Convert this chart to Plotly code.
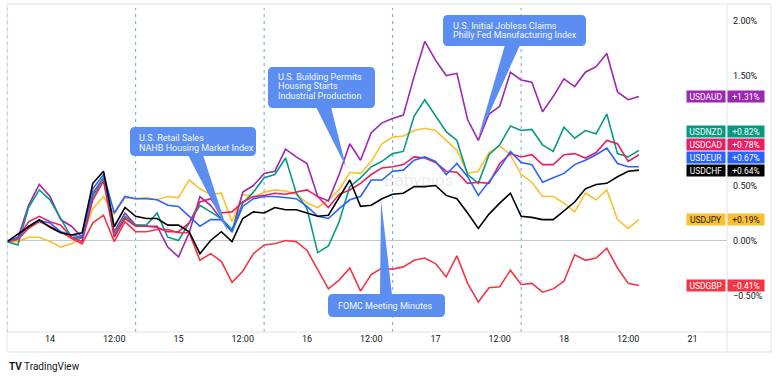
import plotly.graph_objects as go

# ---------------- data ----------------
hours = [-8, -6, -4, -2, 0, 2, 4, 6, 8, 10, 12, 14, 16, 18, 20, 22,
         24, 26, 28, 30, 32, 34, 36, 38, 40, 42, 44, 46, 48, 50, 52,
         54, 56, 58, 60, 62, 64, 66, 68, 70, 72, 74, 76, 78, 80, 82,
         84, 86, 88, 90, 92, 94, 96, 98, 100, 102, 104, 106, 108, 110]

usdaud = [-0.01, 0.02, 0.32, 0.51, 0.40, 0.19, 0.13, 0.03, 0.43, 0.57, 0.08, 0.25, 0.14, 0.13, 0.13, -0.06,
          -0.15, 0.07, 0.40, 0.32, 0.19, 0.08, 0.44, 0.50, 0.61, 0.63, 0.83, 0.76, 0.70, 0.40, 0.36,
          0.60, 0.88, 0.73, 0.98, 1.07, 1.11, 1.14, 1.49, 1.81, 1.64, 1.50, 1.52, 1.10, 0.91, 1.15,
          1.22, 1.53, 1.46, 1.44, 1.17, 1.31, 1.47, 1.40, 1.53, 1.58, 1.70, 1.35, 1.28, 1.31]
usdnzd = [-0.01, -0.04, 0.30, 0.46, 0.37, 0.20, 0.03, 0.02, 0.40, 0.57, 0.05, 0.22, 0.14, 0.14, 0.25, 0.03,
          0.00, 0.16, 0.32, 0.26, 0.20, 0.10, 0.34, 0.44, 0.57, 0.60, 0.75, 0.43, 0.29, -0.11, -0.05,
          0.17, 0.49, 0.57, 0.67, 0.72, 0.79, 0.81, 1.13, 1.28, 1.13, 0.99, 0.91, 0.60, 0.52, 0.78,
          0.87, 1.04, 1.00, 1.01, 0.87, 0.81, 1.03, 0.93, 1.00, 0.97, 1.15, 0.79, 0.76, 0.82]
usdcad = [-0.01, 0.02, 0.17, 0.22, 0.17, 0.14, 0.03, -0.01, 0.37, 0.54, 0.03, 0.20, 0.13, 0.13, 0.12, 0.08,
          0.08, 0.16, 0.35, 0.38, 0.25, 0.26, 0.35, 0.40, 0.41, 0.43, 0.42, 0.44, 0.46, 0.40, 0.30,
          0.42, 0.46, 0.52, 0.60, 0.66, 0.67, 0.69, 0.76, 0.75, 0.71, 0.63, 0.62, 0.52, 0.53, 0.52,
          0.70, 0.79, 0.76, 0.78, 0.69, 0.69, 0.78, 0.79, 0.75, 0.80, 0.91, 0.88, 0.72, 0.78]
usdeur = [-0.01, 0.03, 0.13, 0.18, 0.16, 0.08, 0.05, 0.03, 0.47, 0.60, 0.25, 0.40, 0.38, 0.38, 0.37, 0.32,
          0.31, 0.22, 0.13, 0.19, 0.19, 0.08, 0.31, 0.38, 0.40, 0.40, 0.39, 0.38, 0.31, 0.22, 0.20,
          0.29, 0.37, 0.40, 0.55, 0.55, 0.63, 0.64, 0.73, 0.76, 0.72, 0.60, 0.70, 0.58, 0.41, 0.53,
          0.66, 0.81, 0.71, 0.69, 0.53, 0.57, 0.61, 0.69, 0.73, 0.78, 0.84, 0.70, 0.67, 0.67]
usdchf = [-0.01, 0.06, 0.125, 0.19, 0.12, 0.07, 0.05, 0.07, 0.52, 0.63, 0.125, 0.30, 0.22, 0.20, 0.20, 0.14,
          0.14, 0.08, -0.12, 0.00, 0.08, -0.01, 0.20, 0.26, 0.25, 0.30, 0.28, 0.28, 0.25, 0.22, 0.23,
          0.39, 0.55, 0.31, 0.32, 0.38, 0.42, 0.43, 0.49, 0.49, 0.50, 0.41, 0.38, 0.25, 0.11, 0.24,
          0.34, 0.43, 0.22, 0.21, 0.19, 0.19, 0.27, 0.35, 0.47, 0.51, 0.52, 0.58, 0.63, 0.64]
usdjpy = [-0.01, -0.01, 0.03, 0.03, -0.01, -0.06, -0.03, 0.03, 0.29, 0.40, 0.24, 0.39, 0.38, 0.39, 0.37, 0.40,
          0.39, 0.55, 0.47, 0.42, 0.43, 0.17, 0.42, 0.39, 0.44, 0.46, 0.45, 0.42, 0.34, 0.30, 0.37,
          0.46, 0.62, 0.61, 0.72, 0.88, 0.94, 0.95, 1.00, 1.02, 1.00, 0.91, 0.82, 0.61, 0.63, 0.80,
          0.86, 0.78, 0.60, 0.53, 0.40, 0.40, 0.34, 0.26, 0.43, 0.37, 0.46, 0.19, 0.11, 0.19]
usdgbp = [-0.01, 0.01, 0.11, 0.17, 0.13, 0.08, 0.02, -0.03, 0.16, 0.23, -0.01, 0.17, 0.08, 0.08, 0.10, 0.10,
          0.07, 0.07, -0.18, -0.12, -0.19, -0.38, -0.28, -0.12, -0.04, -0.03, 0.00, -0.01, -0.09, -0.27, -0.44,
          -0.36, -0.25, -0.46, -0.31, -0.25, -0.26, -0.24, -0.18, -0.16, -0.21, -0.33, -0.14, -0.39, -0.56, -0.43,
          -0.42, -0.27, -0.40, -0.39, -0.47, -0.44, -0.37, -0.13, -0.18, -0.16, -0.07, -0.25, -0.39, -0.41]

series_names = ["USDAUD", "USDNZD", "USDCAD", "USDEUR", "USDCHF", "USDJPY", "USDGBP"]
series_values = [usdaud, usdnzd, usdcad, usdeur, usdchf, usdjpy, usdgbp]
last_values = [1.31, 0.82, 0.78, 0.67, 0.64, 0.19, -0.41]
series_colors = ["#9c27b0", "#089981", "#e91e63", "#2962ff", "#000000", "#fbc02d", "#f23645"]
tag_text_colors = ["#ffffff", "#ffffff", "#ffffff", "#ffffff", "#ffffff", "#131722", "#ffffff"]
draw_order = ["USDJPY", "USDAUD", "USDNZD", "USDGBP", "USDCAD", "USDEUR", "USDCHF"]

x_tick_vals = [0, 12, 24, 36, 48, 60, 72, 84, 96, 108, 120]
x_tick_text = ["14", "12:00", "15", "12:00", "16", "12:00", "17", "12:00", "18", "12:00", "21"]
y_tick_vals = [2.0, 1.5, 0.5, 0.0, -0.5]
y_tick_text = ["2.00%", "1.50%", "0.50%", "0.00%", "\u22120.50%"]
session_breaks = [-8, 16, 40, 64, 88]

callout_texts = [
    ["U.S. Retail Sales", "NAHB Housing Market Index"],
    ["U.S. Building Permits", "Housing Starts", "Industrial Production"],
    ["U.S. Initial Jobless Claims", "Philly Fed Manufacturing Index"],
    ["FOMC Meeting Minutes"],
]

# ---------------- layout geometry (pixels) ----------------
W, H = 780, 379
PL, PR, PT, PB = 7, 727, 8, 332
X_RANGE = [-8.03, 126.45]
Y_RANGE = [-0.832, 2.114]


def pxx(x):
    return (x - PL) / (PR - PL)


def pxy(y):
    return (PB - y) / (PB - PT)


# callout geometry in pixels: box (x0, y0, x1, y1), tail triangle, text left, first line y, line step
callout_geo = [
    dict(box=(130, 127, 256, 156), tail=[(188, 155), (203, 155), (228, 232)], tx=137, ty=138, step=9.5),
    dict(box=(268, 67, 375, 108), tail=[(316, 107), (331, 107), (346, 167)], tx=276, ty=77, step=9.5),
    dict(box=(443, 15, 586, 46), tail=[(505, 45), (520, 45), (478, 138)], tx=451, ty=25.5, step=9.5),
    dict(box=(328, 294, 445, 317), tail=[(380, 295), (392, 295), (381, 200)], tx=336, ty=305.5, step=9.5),
]
CALLOUT_COLOR = "#5b8ef0"

fig = go.Figure()
for name in draw_order:
    i = series_names.index(name)
    fig.add_trace(go.Scatter(
        x=hours, y=series_values[i], mode="lines", name=name,
        line=dict(color=series_colors[i], width=1.6), showlegend=False,
        hoverinfo="skip"))

shapes = []
# session break dashed lines
for h in session_breaks:
    shapes.append(dict(type="line", xref="x", yref="paper", x0=h, x1=h, y0=0, y1=1,
                       line=dict(color="#6f9cf4", width=1, dash="3px,4px"), layer="below"))

# frame lines
frame_col = "#e0e3eb"
shapes.append(dict(type="rect", xref="paper", yref="paper", x0=pxx(7), x1=pxx(771),
                   y0=pxy(352), y1=pxy(4), line=dict(color=frame_col, width=1)))
shapes.append(dict(type="line", xref="paper", yref="paper", x0=pxx(7), x1=pxx(771),
                   y0=pxy(332), y1=pxy(332), line=dict(color=frame_col, width=1)))
shapes.append(dict(type="line", xref="paper", yref="paper", x0=pxx(727), x1=pxx(727),
                   y0=pxy(352), y1=pxy(4), line=dict(color=frame_col, width=1)))


def rrect_path(x0, y0, x1, y1, r):
    pts = [
        ("M", [(x0 + r, y0)]), ("L", [(x1 - r, y0)]), ("Q", [(x1, y0), (x1, y0 + r)]),
        ("L", [(x1, y1 - r)]), ("Q", [(x1, y1), (x1 - r, y1)]), ("L", [(x0 + r, y1)]),
        ("Q", [(x0, y1), (x0, y1 - r)]), ("L", [(x0, y0 + r)]), ("Q", [(x0, y0), (x0 + r, y0)]),
    ]
    s = ""
    for cmd, ps in pts:
        s += cmd + " " + " ".join(f"{pxx(px):.5f},{pxy(py):.5f}" for px, py in ps) + " "
    return s + "Z"


annotations = []
for lines, g in zip(callout_texts, callout_geo):
    x0, y0, x1, y1 = g["box"]
    shapes.append(dict(type="path", xref="paper", yref="paper", path=rrect_path(x0, y0, x1, y1, 5),
                       fillcolor=CALLOUT_COLOR, line=dict(width=0), layer="above"))
    t = g["tail"]
    tp = "M " + " L ".join(f"{pxx(px):.5f},{pxy(py):.5f}" for px, py in t) + " Z"
    shapes.append(dict(type="path", xref="paper", yref="paper", path=tp,
                       fillcolor=CALLOUT_COLOR, line=dict(width=0), layer="above"))
    for k, txt in enumerate(lines):
        annotations.append(dict(text=txt, xref="paper", yref="paper", x=pxx(g["tx"]),
                                y=pxy(g["ty"] + k * g["step"]), xanchor="left", yanchor="middle",
                                showarrow=False, font=dict(size=9, color="#f4f7ff", family="Roboto")))

# last-value tags on the price scale, stacked upwards to avoid overlap
gap = 13 / 110.0
order = sorted(range(len(series_names)), key=lambda i: last_values[i])
tag_pos = {}
prev = None
for i in order:
    p = last_values[i] if prev is None else max(last_values[i], prev + gap)
    tag_pos[i] = p
    prev = p
for i, name in enumerate(series_names):
    v = last_values[i]
    vtxt = ("+" if v >= 0 else "\u2212") + f"{abs(v):.2f}%"
    common = dict(xref="paper", yref="y", y=tag_pos[i], yanchor="middle", showarrow=False,
                  bgcolor=series_colors[i], height=11, borderpad=0,
                  font=dict(size=8.5, color=tag_text_colors[i], family="Roboto"))
    annotations.append(dict(text=name, x=1, xanchor="right", xshift=-1, width=38, **common))
    annotations.append(dict(text=vtxt, x=1, xanchor="left", xshift=0, width=36, **common))

# watermark
annotations.append(dict(text="Babypips", xref="paper", yref="paper", x=pxx(418), y=pxy(180),
                        xanchor="center", yanchor="middle", showarrow=False,
                        font=dict(size=17, color="rgba(120,123,134,0.16)", family="Roboto")))
# TradingView logo
annotations.append(dict(text="<b>TV</b> TradingView", xref="paper", yref="paper", x=pxx(7), y=pxy(366),
                        xanchor="left", yanchor="middle", showarrow=False,
                        font=dict(size=10, color="#131722", family="Roboto")))

fig.update_layout(
    width=W, height=H,
    margin=dict(l=PL, r=W - PR, t=PT, b=H - PB, pad=0),
    plot_bgcolor="white", paper_bgcolor="white",
    font=dict(family="Roboto", size=9, color="#131722"),
    xaxis=dict(range=X_RANGE, tickvals=x_tick_vals, ticktext=x_tick_text, showgrid=False,
               zeroline=False, showline=False, ticks="", tickfont=dict(size=9, color="#131722"),
               fixedrange=True),
    yaxis=dict(range=Y_RANGE, side="right", tickvals=y_tick_vals, ticktext=y_tick_text,
               showgrid=False, zeroline=True, zerolinecolor="#c3c6ce", zerolinewidth=1,
               showline=False, ticks="", ticklabelstandoff=5,
               tickfont=dict(size=9, color="#131722"), fixedrange=True),
    shapes=shapes,
    annotations=annotations,
    showlegend=False,
)

fig.write_html("out.html", config={"displayModeBar": False},
               post_script="document.body.style.margin='0px';document.body.style.overflow='hidden';")
